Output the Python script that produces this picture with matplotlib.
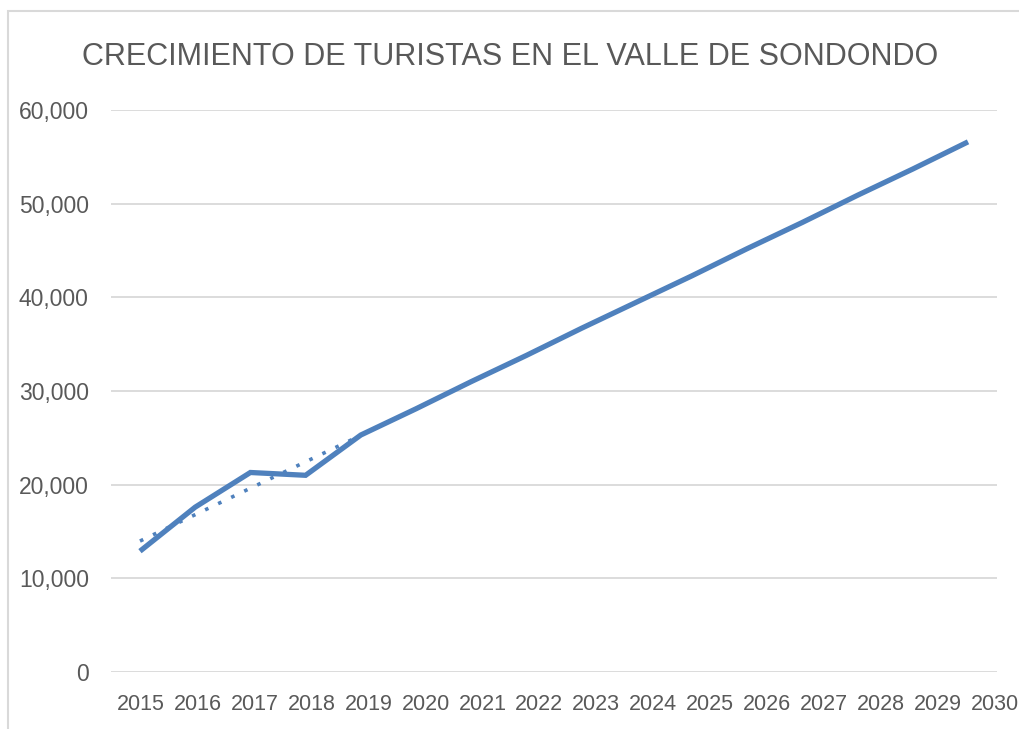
import numpy as np
import matplotlib
matplotlib.use("Agg")
import matplotlib.pyplot as plt
from matplotlib.patches import Rectangle

plt.rcParams['font.family'] = ['Liberation Sans', 'DejaVu Sans']

# datos
anios = [2015, 2016, 2017, 2018, 2019, 2020, 2021, 2022, 2023, 2024,
         2025, 2026, 2027, 2028, 2029, 2030]
turistas = [12900, 17600, 21300, 21000, 25300, 28100, 31000, 33800, 36700,
            39500, 42300, 45200, 48000, 50900, 53700, 56600]
anios_tendencia = anios[:5]
turistas_tendencia = turistas[:5]
etiquetas_y = [0, 10000, 20000, 30000, 40000, 50000, 60000]

azul = '#4F81BD'
gris_texto = '#595959'
gris_linea = '#D9D9D9'

fig = plt.figure(figsize=(10.2, 7.29), dpi=100)
ax = fig.add_axes([111 / 1020, 1 - 672 / 729, 886 / 1020, 562 / 729])

# linea principal
ax.plot(anios, turistas, color=azul, lw=3.8, solid_capstyle='butt',
        solid_joinstyle='miter', zorder=3)

# linea de tendencia lineal (punteada)
m, b = np.polyfit(anios_tendencia, turistas_tendencia, 1)
xt = np.array([anios_tendencia[0], anios_tendencia[-1]])
ax.plot(xt, m * xt + b, color=azul, lw=2.6, linestyle=(0, (1, 3)),
        dash_capstyle='butt', zorder=2)

ax.set_xlim(2014.475, 2030.525)
ax.set_ylim(0, 60000)
ax.set_yticks(etiquetas_y)
ax.set_yticklabels([f"{v:,}" for v in etiquetas_y])
ax.yaxis.grid(True, color=gris_linea, lw=1.3)
ax.set_axisbelow(True)
ax.tick_params(axis='y', length=0, pad=16, labelsize=16.5, labelcolor=gris_texto)
ax.set_xticks([])
for s in ax.spines.values():
    s.set_visible(False)

# etiquetas del eje x (Excel las reparte algo mas anchas que los puntos)
def a_etiqueta(x):
    return 2015 + ((x - 2014.475) * 55.2 - 30) / 56.9

def de_etiqueta(y):
    return 2014.475 + (30 + (y - 2015) * 56.9) / 55.2

sec = ax.secondary_xaxis('bottom', functions=(a_etiqueta, de_etiqueta))
sec.set_xticks(anios)
sec.set_xticklabels([str(a) for a in anios])
sec.tick_params(length=0, pad=16, labelsize=15.5, labelcolor=gris_texto)
for s in sec.spines.values():
    s.set_visible(False)

fig.text(0.5, 1 - 57 / 729, "CRECIMIENTO DE TURISTAS EN EL VALLE DE SONDONDO",
         ha='center', va='center', fontsize=22, color=gris_texto)

# borde del area del grafico
fig.add_artist(Rectangle((8 / 1020, -0.1), 1.2, 1.1 - 11 / 729,
                         transform=fig.transFigure, fill=False,
                         ec=gris_linea, lw=1.5, clip_on=False))

fig.savefig('out.png', dpi=100)
